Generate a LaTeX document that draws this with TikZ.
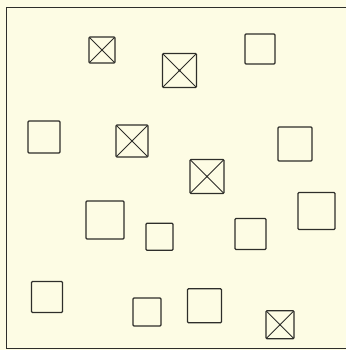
\documentclass[tikz,border=0pt]{standalone}
\usetikzlibrary{positioning}
\usepackage{xcolor}
\definecolor{papel}{HTML}{FDFCE4}
\definecolor{tinta}{HTML}{2E2E2A}

\begin{document}
\begin{tikzpicture}[x=1pt, y=-1pt, line width=1.2pt,
      caja/.style={draw=tinta, rounded corners=1pt, inner sep=0pt, minimum size=#1},
      caja/.default=32pt,
      cruz/.style={caja=#1, path picture={
          \draw[tinta, line width=0.9pt]
            (path picture bounding box.north west) -- (path picture bounding box.south east)
            (path picture bounding box.north east) -- (path picture bounding box.south west);
          \fill[tinta] (path picture bounding box.center) circle (1.1pt);}},
      cruz/.default=32pt]
    \fill[papel] (0,0) rectangle (346,350);
    \useasboundingbox (0,0) rectangle (346,350);
    \draw[tinta] (346,7.5) -- (6.5,7.5) -- (6.5,348.5) -- (346,348.5);
    % fila de arriba
    \node[cruz=26pt] (s1) at (102,50) {};
    \node[cruz=34pt] (s2) at (179.5,70.5) {};
    \node[caja=30pt] (s3) at (260,49) {};
    % centro
    \node[caja=32pt] (s4) at (44,137) {};
    \node[cruz=32pt] (s5) at (132,141) {};
    \node[caja=34pt] (s6) at (295,144) {};
    \node[cruz=34pt] (s7) at (207,176.5) {};
    \node[caja=38pt] (s8) at (105,220) {};
    \node[caja=27pt] (s9) at (159.5,236.7) {};
    \node[caja=31pt] (s10) at (250.5,234) {};
    \node[caja=37pt] (s11) at (316.5,211) {};
    % fila de abajo
    \node[caja=31pt] (s12) at (47,297) {};
    \node[caja=28pt] (s13) at (147,312) {};
    \node[caja=34pt] (s14) at (204.5,305.7) {};
    \node[cruz=28pt] (s15) at (280,324.7) {};
  \end{tikzpicture}
\end{document}
